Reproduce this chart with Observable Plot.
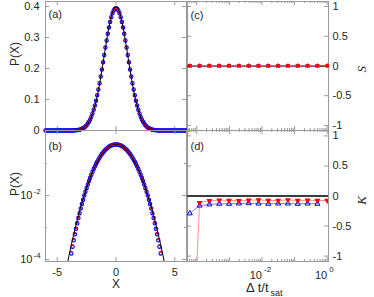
<!DOCTYPE html>
<html><head><meta charset="utf-8">
<script src="https://cdn.jsdelivr.net/npm/d3@7"></script>
<script src="https://cdn.jsdelivr.net/npm/@observablehq/plot@0.6"></script>
<style>
html,body{margin:0;padding:0;background:#fff;}
#chart{position:relative;width:374px;height:297px;overflow:hidden;}
#chart svg{position:absolute;left:0;top:0;}
</style></head><body><div id="chart"></div>
<script>
// ---------- data: panels (a),(b) ----------
const X = [-6.0,-5.9,-5.8,-5.7,-5.6,-5.5,-5.4,-5.3,-5.2,-5.1,-5.0,-4.9,-4.8,-4.7,-4.6,-4.5,-4.4,-4.3,-4.2,-4.1,-4.0,-3.9,
-3.8,-3.7,-3.6,-3.5,-3.4,-3.3,-3.2,-3.1,-3.0,-2.9,-2.8,-2.7,-2.6,-2.5,-2.4,-2.3,-2.2,-2.1,-2.0,-1.9,-1.8,-1.7,-1.6,-1.5,-1.4,-1.3,-1.2,-1.1,-1.0,-0.9,-0.8,-0.7,-0.6,-0.5,-0.4,-0.3,-0.2,-0.1,
0.0,
0.1,0.2,0.3,0.4,0.5,0.6,0.7,0.8,0.9,1.0,1.1,1.2,1.3,1.4,1.5,1.6,1.7,1.8,1.9,2.0,2.1,2.2,2.3,2.4,2.5,2.6,2.7,2.8,2.9,3.0,3.1,3.2,3.3,3.4,3.5,3.6,3.7,3.8,
3.9,4.0,4.1,4.2,4.3,4.4,4.5,4.6,4.7,4.8,4.9,5.0,5.1,5.2,5.3,5.4,5.5,5.6,5.7,5.8,5.9,6.0];
const P_RED = [0,0,0,0,0,0,0,0,0,0,0,0,0,0,0,0,0,0,0,0,0,0,
0.000178,0.000281,0.000434,0.000656,0.000973,0.00142,0.002038,0.002882,0.004016,0.00552,0.007484,0.010016,0.013235,0.01728,0.02228,0.0284,0.03576,0.04453,0.05483,0.06677,0.08042,0.09581,0.11293,0.13172,0.15203,0.17366,0.19635,0.21975,0.24348,0.26709,0.29008,0.31196,0.33221,0.35035,0.36589,0.37845,0.38767,0.3933,
0.3952,
0.3933,0.38767,0.37845,0.36589,0.35035,0.33221,0.31196,0.29008,0.26709,0.24348,0.21975,0.19635,0.17366,0.15203,0.13172,0.11293,0.09581,0.08042,0.06677,0.05483,0.04453,0.03576,0.0284,0.02228,0.01728,0.013235,0.010016,0.007484,0.00552,0.004016,0.002882,0.002038,0.00142,0.000973,0.000656,0.000434,0.000281,0.000178,
0,0,0,0,0,0,0,0,0,0,0,0,0,0,0,0,0,0,0,0,0,0];
const P_BLUE = [0,0,0,0,0,0,0,0,0,0,0,0,0,0,0,0,0,0,0,0,0,0,
0.000155,0.000252,0.000398,0.000613,0.000921,0.001359,0.001969,0.002805,0.003933,0.005433,0.007398,0.009935,0.013166,0.01723,0.02226,0.02841,0.03582,0.04464,0.055,0.067,0.08071,0.09616,0.11333,0.13216,0.15249,0.17412,0.19678,0.22013,0.24378,0.26729,0.29016,0.3119,0.33201,0.35001,0.36542,0.37786,0.38699,0.39257,
0.39445,
0.39257,0.38699,0.37786,0.36542,0.35001,0.33201,0.3119,0.29016,0.26729,0.24378,0.22013,0.19678,0.17412,0.15249,0.13216,0.11333,0.09616,0.08071,0.067,0.055,0.04464,0.03582,0.02841,0.02226,0.01723,0.013166,0.009935,0.007398,0.005433,0.003933,0.002805,0.001969,0.001359,0.000921,0.000613,0.000398,0.000252,0.000155,
0,0,0,0,0,0,0,0,0,0,0,0,0,0,0,0,0,0,0,0,0,0];
// Gaussian reference curve (black line)
const GX = [-6,-4.5,-4.4,-4.3,-4.2,-4.1,-4.0,-3.9,-3.8,-3.7,-3.6,-3.5,-3.4,-3.3,-3.2,-3.1,-3.0,-2.9,-2.8,-2.7,-2.6,-2.5,-2.4,-2.3,-2.2,-2.1,-2.0,-1.9,-1.8,-1.7,-1.6,-1.5,-1.4,-1.3,-1.2,-1.1,-1.0,-0.9,-0.8,-0.7,-0.6,-0.5,-0.4,-0.3,-0.2,-0.1,
0.0,
0.1,0.2,0.3,0.4,0.5,0.6,0.7,0.8,0.9,1.0,1.1,1.2,1.3,1.4,1.5,1.6,1.7,1.8,1.9,2.0,2.1,2.2,2.3,2.4,2.5,2.6,2.7,2.8,2.9,3.0,3.1,3.2,3.3,3.4,3.5,3.6,3.7,3.8,3.9,4.0,4.1,4.2,4.3,4.4,4.5,6];
const GP = [6.1e-9,0.000016,0.0000249,0.0000385,0.0000589,0.0000892,0.0001338,0.0001987,0.0002919,0.0004248,0.0006119,0.0008727,0.001232,0.001723,0.002384,0.003267,0.004432,0.005953,0.007915,0.01042,0.01358,0.01753,0.02239,0.02833,0.03547,0.04398,0.05399,0.06562,0.07895,0.09405,0.11092,0.12952,0.14973,0.17137,0.19419,0.21785,0.24197,0.26609,0.28969,0.31225,0.33322,0.35207,0.36827,0.38139,0.39104,0.39695,
0.39894,
0.39695,0.39104,0.38139,0.36827,0.35207,0.33322,0.31225,0.28969,0.26609,0.24197,0.21785,0.19419,0.17137,0.14973,0.12952,0.11092,0.09405,0.07895,0.06562,0.05399,0.04398,0.03547,0.02833,0.02239,0.01753,0.01358,0.01042,0.007915,0.005953,0.004432,0.003267,0.002384,0.001723,0.001232,0.0008727,0.0006119,0.0004248,0.0002919,0.0001987,0.0001338,0.0000892,0.0000589,0.0000385,0.0000249,0.000016,6.1e-9];

// ---------- data: panels (c),(d) ----------
const DT = [0.00006103515625,0.0001220703125,0.000244140625,0.00048828125,0.0009765625,0.001953125,0.00390625,0.0078125,0.015625,0.03125,0.0625,0.125,0.25,0.5,1];
const S_RED  = [0.004,0.003,0.004,0.003,0.004,0.003,0.004,0.003,0.004,0.003,0.003,0.004,0.003,0.004,0.003];
const S_BLUE = [0.002,0.001,0.002,0.001,0.002,0.001,0.002,0.001,0.002,0.001,0.002,0.001,0.002,0.001];
const K_RED  = [-3.7,-0.11,-0.08,-0.07,-0.075,-0.08,-0.07,-0.065,-0.075,-0.075,-0.065,-0.075,-0.07,-0.075,-0.075];
const K_BLUE = [-0.29,-0.16,-0.14,-0.13,-0.13,-0.125,-0.12,-0.125,-0.13,-0.125,-0.125,-0.13,-0.125,-0.13];

// ---------- tick labels ----------
const X_TICKS = [-5, 0, 5];
const PA_TICKS = [0, 0.1, 0.2, 0.3, 0.4];
const PB_TICKS = [1e-2, 1e-4];
const PB_EXP = ["-2", "-4"];
const PB_MINOR = [1e-3, 1e-1];
const SK_TICKS = [1, 0.5, 0, -0.5, -1];
const DT_TICKS = [1e-2, 1];
const DT_EXP = ["-2", "0"];

// ---------- rendering ----------
const FONT = "'Liberation Sans', Arial, Helvetica, sans-serif";
const AX = "#9a9a9a";
const W = 374, H = 297;
const chart = document.getElementById("chart");
function panel(opts) {
  const svg = Plot.plot({
    width: W, height: H, ...opts,
    style: {background: "transparent", fontFamily: FONT, fontSize: "11px", color: "#262626", overflow: "visible"}
  });
  chart.appendChild(svg);
}
function boxTicks({xt = [], yt = [], fw, fh, len = 4}) {
  return [
    Plot.tickX(xt, {x: d => d, stroke: AX, insetTop: fh - len}),
    Plot.tickX(xt, {x: d => d, stroke: AX, insetBottom: fh - len}),
    Plot.tickY(yt, {y: d => d, stroke: AX, insetRight: fw - len}),
    Plot.tickY(yt, {y: d => d, stroke: AX, insetLeft: fw - len})
  ];
}
const rows = X.map((x, i) => ({x, red: P_RED[i], blue: P_BLUE[i]}));
const gauss = GX.map((x, i) => ({x, p: GP[i]}));
const BLUE_DOT = {r: 1.7, stroke: "#0000ff", strokeWidth: 1.1};
const RED_DOT = {r: 1.1, fill: "#ff0000"};

// (a) linear
panel({
  marginLeft: 45, marginRight: 188, marginTop: 1, marginBottom: 167,
  x: {domain: [-6, 6], axis: null},
  y: {domain: [0, 0.416], axis: null},
  marks: [
    ...boxTicks({xt: X_TICKS, yt: PA_TICKS, fw: 141, fh: 129}),
    Plot.frame({stroke: AX}),
    Plot.dot(rows, {x: "x", y: "blue", ...BLUE_DOT}),
    Plot.dot(rows, {x: "x", y: "red", ...RED_DOT}),
    Plot.line(gauss, {x: "x", y: "p", stroke: "#000", strokeWidth: 1}),
    Plot.text(PA_TICKS, {y: d => d, text: d => String(d), frameAnchor: "left", textAnchor: "end", dx: -6}),
    Plot.text(["(a)"], {text: d => d, frameAnchor: "top-left", textAnchor: "start", lineAnchor: "middle", dx: 3, dy: 13}),
    Plot.text(["P(X)"], {text: d => d, frameAnchor: "left", rotate: -90, dx: -30, fontSize: 12})
  ]
});

// (b) log
panel({
  marginLeft: 45, marginRight: 188, marginTop: 130, marginBottom: 36,
  x: {domain: [-6, 6], axis: null},
  y: {type: "log", domain: [8.7e-5, 1.074], axis: null},
  marks: [
    ...boxTicks({xt: X_TICKS, yt: PB_TICKS, fw: 141, fh: 131}),
    ...boxTicks({yt: PB_MINOR, fw: 141, fh: 131, len: 2}),
    Plot.frame({stroke: AX}),
    Plot.dot(rows.filter(d => d.blue > 0), {x: "x", y: "blue", ...BLUE_DOT, clip: true}),
    Plot.dot(rows.filter(d => d.red > 0), {x: "x", y: "red", ...RED_DOT, clip: true}),
    Plot.line(gauss, {x: "x", y: "p", stroke: "#000", strokeWidth: 1, clip: true}),
    Plot.text(PB_TICKS, {y: d => d, text: () => "10", frameAnchor: "left", textAnchor: "end", dx: -13}),
    Plot.text(PB_TICKS, {y: d => d, text: (d, i) => PB_EXP[i], frameAnchor: "left", textAnchor: "start", dx: -12, dy: -4, fontSize: 8}),
    Plot.text(X_TICKS, {x: d => d, text: d => String(d), frameAnchor: "bottom", lineAnchor: "middle", dy: 11}),
    Plot.text(["(b)"], {text: d => d, frameAnchor: "top-left", textAnchor: "start", lineAnchor: "middle", dx: 3, dy: 16}),
    Plot.text(["P(X)"], {text: d => d, frameAnchor: "left", rotate: -90, dx: -30, fontSize: 12}),
    Plot.text(["X"], {text: d => d, frameAnchor: "bottom", lineAnchor: "middle", dy: 23, fontSize: 12})
  ]
});

// log-axis tick positions for Δt panels
const LOG_MAJ = [1e-4, 1e-3, 1e-2, 1e-1, 1];
const LOG_MIN = [];
for (const m of [1e-5, 1e-4, 1e-3, 1e-2, 1e-1]) for (let k = 2; k <= 9; k++) { const v = k * m; if (v > 5.19e-5 && v < 1.096) LOG_MIN.push(v); }
const sRed = DT.map((t, i) => ({t, v: S_RED[i]}));
const sBlue = DT.slice(0, S_BLUE.length).map((t, i) => ({t, v: S_BLUE[i]}));
const kRed = DT.map((t, i) => ({t, v: K_RED[i]}));
const kBlue = DT.slice(0, K_BLUE.length).map((t, i) => ({t, v: K_BLUE[i]}));

// (c) skewness
panel({
  marginLeft: 187, marginRight: 46, marginTop: 1, marginBottom: 167,
  x: {type: "log", domain: [5.19e-5, 1.096], axis: null},
  y: {domain: [-1.085, 1.085], axis: null},
  marks: [
    ...boxTicks({xt: LOG_MAJ, yt: SK_TICKS, fw: 141, fh: 129}),
    ...boxTicks({xt: LOG_MIN, fw: 141, fh: 129, len: 2}),
    Plot.frame({stroke: AX}),
    Plot.ruleY([0], {stroke: "#3c3c3c", strokeWidth: 2}),
    Plot.line(sBlue, {x: "t", y: "v", stroke: "#8080ff", strokeWidth: 1}),
    Plot.line(sRed, {x: "t", y: "v", stroke: "#ff6060", strokeWidth: 1}),
    Plot.dot(sBlue, {x: "t", y: "v", symbol: "times", r: 1.8, stroke: "#0000ff", strokeWidth: 1}),
    Plot.dot(sRed, {x: "t", y: "v", symbol: "asterisk", r: 2.1, stroke: "#ff0000", strokeWidth: 1.4}),
    Plot.text(SK_TICKS, {y: d => d, text: d => String(d), frameAnchor: "right", textAnchor: "start", dx: 4}),
    Plot.text(["(c)"], {text: d => d, frameAnchor: "top-left", textAnchor: "start", lineAnchor: "middle", dx: 3, dy: 14}),
    Plot.text(["S"], {text: d => d, frameAnchor: "right", rotate: -90, dx: 33, fontSize: 13, fontStyle: "italic", fontFamily: "'Liberation Serif', 'DejaVu Serif', serif"})
  ]
});

// (d) kurtosis
panel({
  marginLeft: 187, marginRight: 46, marginTop: 130, marginBottom: 36,
  x: {type: "log", domain: [5.19e-5, 1.096], axis: null},
  y: {domain: [-1.09, 1.09], axis: null},
  marks: [
    ...boxTicks({xt: LOG_MAJ, yt: SK_TICKS, fw: 141, fh: 131}),
    ...boxTicks({xt: LOG_MIN, fw: 141, fh: 131, len: 2}),
    Plot.frame({stroke: AX}),
    Plot.ruleY([0], {stroke: "#3c3c3c", strokeWidth: 2}),
    Plot.line(kBlue, {x: "t", y: "v", stroke: "#8080ff", strokeWidth: 1, clip: true}),
    Plot.line(kRed, {x: "t", y: "v", stroke: "#ff9090", strokeWidth: 1, clip: true}),
    Plot.dot(kBlue, {x: "t", y: "v", symbol: "triangle", r: 1.9, stroke: "#0000ff", strokeWidth: 1, clip: true}),
    Plot.dot(kRed, {x: "t", y: "v", symbol: "triangle", rotate: 180, r: 2.2, fill: "#ff0000", clip: true}),
    Plot.text(SK_TICKS, {y: d => d, text: d => String(d), frameAnchor: "right", textAnchor: "start", dx: 4}),
    Plot.text(DT_TICKS, {x: d => d, text: () => "10", frameAnchor: "bottom", textAnchor: "end", lineAnchor: "middle", dx: 0, dy: 14}),
    Plot.text(DT_TICKS, {x: d => d, text: (d, i) => DT_EXP[i], frameAnchor: "bottom", textAnchor: "start", lineAnchor: "middle", dx: 2, dy: 8, fontSize: 8}),
    Plot.text(["(d)"], {text: d => d, frameAnchor: "top-left", textAnchor: "start", lineAnchor: "middle", dx: 3, dy: 16}),
    Plot.text(["K"], {text: d => d, frameAnchor: "right", rotate: -90, dx: 33, fontSize: 13, fontStyle: "italic", fontFamily: "'Liberation Serif', 'DejaVu Serif', serif"}),
    Plot.text(["Δ t/t"], {text: d => d, frameAnchor: "bottom", textAnchor: "end", lineAnchor: "middle", dx: 10.5, dy: 26, fontSize: 13}),
    Plot.text(["sat"], {text: d => d, frameAnchor: "bottom", textAnchor: "start", lineAnchor: "middle", dx: 12.5, dy: 31.5, fontSize: 9})
  ]
});
</script></body></html>
